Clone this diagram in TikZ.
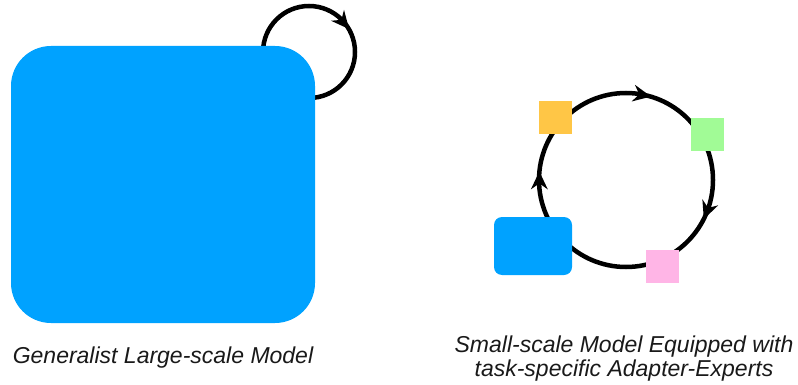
\documentclass[tikz,border=0pt]{standalone}
\usepackage{fontspec}
\setmainfont{Liberation Sans}
\definecolor{bigblue}{RGB}{0,162,255}
\definecolor{expOrange}{RGB}{255,198,70}
\definecolor{expGreen}{RGB}{161,251,150}
\definecolor{expPink}{RGB}{255,181,230}
\tikzset{
  ring/.style={line width=4.5pt, draw=black},
  arrowhead/.pic={\fill[black] (1,0) -- (-17,8.5) -- (-11,0) -- (-17,-8.5) -- cycle;},
  expert/.style={minimum width=33pt, minimum height=33pt, inner sep=0pt, draw=none},
  caption/.style={font=\fontsize{23}{24}\selectfont\itshape, text=black!90, inner sep=0pt, align=center},
}
\begin{document}
\begin{tikzpicture}[x=1pt,y=-1pt]
\useasboundingbox (0,0) rectangle (798,385);
% left: generalist model with self loop
\coordinate (loopc) at (309,52);
\draw[ring] (loopc) circle (46);
\path ([shift={(329:46)}]loopc) pic[rotate=-50] {arrowhead};
\node[fill=bigblue, rounded corners=40pt, minimum width=304pt, minimum height=277pt, inner sep=0pt] (big) at (163,184.5) {};
\node[caption, anchor=base] (bigcap) at (163,363) {Generalist Large-scale Model};
% right: small model with adapter experts
\coordinate (ringc) at (626,180);
\draw[ring] (ringc) circle (87);
\path ([shift={(26:87)}]ringc) pic[rotate=-111] {arrowhead};
\path ([shift={(185:87)}]ringc) pic[rotate=90] {arrowhead};
\path ([shift={(286:87)}]ringc) pic[rotate=-11] {arrowhead};
\node[fill=bigblue, rounded corners=8pt, minimum width=78pt, minimum height=58pt, inner sep=0pt] (small) at (533,246) {};
\node[expert, fill=expOrange] (eo) at (555,118) {};
\node[expert, fill=expGreen] (eg) at (707,135) {};
\node[expert, fill=expPink] (ep) at (662,266) {};
\node[caption, anchor=base] (smallcap) at (624,376) {Small-scale Model Equipped with\\task-specific Adapter-Experts};
\end{tikzpicture}
\end{document}
